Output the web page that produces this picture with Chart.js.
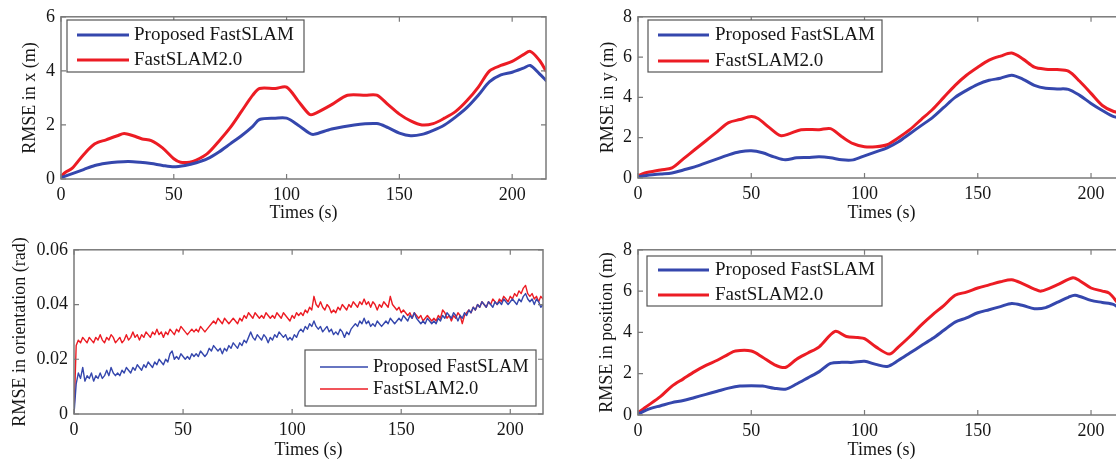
<!DOCTYPE html>
<html>
<head>
    <title>RMSE comparison</title>
    <script src="https://cdn.jsdelivr.net/npm/chart.js"></script>
    <style>
        body {
            margin: 0;
            background: #fff;
            width: 1116px;
            height: 466px;
            overflow: hidden;
            position: relative;
        }
        canvas {
            position: absolute;
        }
    </style>
</head>
<body>
    <canvas id="chartX" width="556" height="233" style="left:0;top:0"></canvas>
    <canvas id="chartY" width="580" height="233" style="left:556px;top:0"></canvas>
    <canvas id="chartO" width="556" height="233" style="left:0;top:233px"></canvas>
    <canvas id="chartP" width="580" height="233" style="left:556px;top:233px"></canvas>

    <script>
        const seriesNames = ['Proposed FastSLAM', 'FastSLAM2.0'];
        const xTicks = [0, 50, 100, 150, 200];

        // RMSE in x (m)
        const xBlueT = [0, 5, 10, 15, 20, 25, 30, 35, 40, 45, 50, 55, 60, 65, 70, 75, 80, 85, 88, 95, 100, 105, 110, 112, 120, 130, 140, 145, 150, 155, 160, 165, 170, 175, 180, 185, 190, 195, 200, 205, 208, 212, 215];
        const xBlueV = [0.05, 0.2, 0.35, 0.5, 0.58, 0.63, 0.65, 0.62, 0.57, 0.5, 0.45, 0.5, 0.6, 0.75, 1.0, 1.3, 1.6, 1.95, 2.2, 2.25, 2.25, 2.0, 1.7, 1.65, 1.85, 2.0, 2.05, 1.9, 1.7, 1.6, 1.65, 1.8, 2.0, 2.3, 2.65, 3.1, 3.6, 3.85, 3.95, 4.1, 4.2, 3.9, 3.65];
        const xRedT = [0, 2, 5, 10, 15, 20, 25, 28, 32, 36, 40, 45, 50, 53, 57, 60, 65, 70, 75, 80, 85, 88, 95, 100, 105, 110, 112, 120, 127, 135, 140, 145, 150, 155, 160, 165, 170, 175, 180, 185, 190, 195, 200, 205, 208, 212, 215];
        const xRedV = [0.1, 0.25, 0.4, 0.9, 1.3, 1.45, 1.6, 1.68, 1.6, 1.48, 1.42, 1.15, 0.75, 0.62, 0.62, 0.7, 0.95, 1.4, 1.9, 2.5, 3.1, 3.35, 3.35, 3.4, 2.9, 2.4, 2.4, 2.75, 3.1, 3.1, 3.1, 2.75, 2.4, 2.15, 2.0, 2.05, 2.25, 2.5, 2.9, 3.4, 4.0, 4.2, 4.35, 4.6, 4.72, 4.4, 4.0];

        // RMSE in y (m)
        const yBlueT = [0, 5, 10, 15, 20, 25, 30, 35, 40, 45, 50, 55, 60, 65, 70, 75, 80, 85, 90, 95, 100, 105, 110, 115, 120, 125, 130, 135, 140, 145, 150, 155, 160, 165, 170, 175, 180, 185, 190, 195, 200, 205, 210, 215];
        const yBlueV = [0.05, 0.15, 0.2, 0.25, 0.4, 0.55, 0.75, 0.95, 1.15, 1.3, 1.35, 1.25, 1.05, 0.9, 1.0, 1.02, 1.05, 1.0, 0.9, 0.9, 1.1, 1.3, 1.5, 1.8, 2.2, 2.6, 3.0, 3.5, 4.0, 4.35, 4.65, 4.85, 4.95, 5.1, 4.9, 4.6, 4.45, 4.42, 4.4, 4.1, 3.7, 3.35, 3.05, 2.95];
        const yRedT = [0, 3, 10, 15, 20, 25, 30, 35, 40, 45, 50, 53, 58, 63, 67, 72, 80, 85, 90, 95, 100, 105, 110, 115, 120, 125, 130, 135, 140, 145, 150, 155, 160, 165, 170, 175, 180, 185, 190, 195, 200, 205, 210, 215];
        const yRedV = [0.1, 0.25, 0.4, 0.5, 0.95, 1.4, 1.85, 2.3, 2.75, 2.9, 3.05, 2.95, 2.5, 2.1, 2.2, 2.4, 2.4, 2.45, 2.05, 1.7, 1.55, 1.55, 1.65, 2.0, 2.4, 2.9, 3.4, 4.0, 4.6, 5.1, 5.5, 5.85, 6.05, 6.2, 5.9, 5.5, 5.4, 5.38, 5.3, 4.8, 4.2, 3.6, 3.3, 3.2];

        // RMSE in orientation, sampled once per second, in 1e-3 rad
        const oBlueMrad = [0, 11, 15, 13, 17, 12, 14, 13, 15, 12, 14, 13, 15, 13, 14, 16, 14, 17, 15, 14,
            15, 14, 16, 15, 17, 16, 15, 17, 16, 18, 17, 16, 18, 17, 19, 18, 17, 19, 18, 20,
            19, 18, 20, 19, 22, 23, 20, 21, 20, 22, 21, 20, 21, 20, 22, 21, 22, 21, 23, 22,
            21, 22, 24, 23, 25, 24, 23, 24, 22, 24, 23, 25, 24, 26, 25, 24, 26, 25, 27, 26,
            28, 30, 28, 27, 29, 28, 27, 29, 28, 26, 28, 27, 29, 28, 30, 29, 28, 29, 27, 28,
            27, 29, 28, 30, 31, 30, 32, 31, 33, 32, 34, 32, 31, 32, 30, 31, 32, 30, 31, 29,
            30, 29, 31, 30, 28, 30, 29, 31, 32, 33, 32, 34, 33, 35, 33, 34, 32, 33, 32, 34,
            33, 32, 33, 34, 33, 35, 34, 33, 34, 35, 34, 36, 35, 34, 36, 35, 37, 35, 34, 33,
            34, 33, 35, 34, 33, 34, 33, 35, 34, 36, 35, 37, 36, 35, 37, 36, 34, 36, 35, 37,
            36, 38, 37, 39, 38, 40, 39, 41, 40, 39, 41, 40, 39, 41, 40, 41, 40, 42, 41, 40,
            41, 42, 41, 40, 42, 41, 43, 44, 42, 41, 42, 40, 42, 41, 39, 40];
        const oRedMrad = [0, 25, 27, 26, 28, 27, 26, 28, 27, 26, 28, 27, 29, 27, 26, 28, 27, 29, 28, 26,
            27, 28, 26, 27, 29, 27, 28, 30, 28, 29, 27, 29, 28, 30, 29, 28, 30, 29, 31, 29,
            30, 28, 30, 29, 31, 30, 29, 31, 30, 32, 31, 30, 29, 30, 31, 30, 31, 30, 32, 31,
            30, 31, 32, 33, 34, 33, 35, 34, 33, 35, 34, 33, 34, 35, 34, 33, 35, 34, 36, 35,
            37, 36, 35, 37, 36, 35, 36, 35, 37, 36, 35, 36, 35, 37, 36, 35, 37, 36, 35, 34,
            36, 35, 37, 36, 37, 36, 38, 37, 39, 38, 43, 40, 39, 41, 39, 38, 40, 39, 37, 38,
            37, 39, 38, 40, 39, 38, 40, 39, 41, 40, 39, 41, 40, 42, 40, 41, 39, 41, 40, 38,
            40, 39, 41, 40, 39, 43, 40, 39, 38, 39, 37, 38, 37, 36, 37, 35, 37, 36, 35, 36,
            34, 35, 36, 35, 34, 35, 34, 36, 35, 38, 37, 35, 36, 34, 36, 35, 37, 36, 33, 36,
            37, 38, 37, 39, 38, 40, 39, 41, 40, 39, 41, 40, 42, 41, 40, 42, 41, 43, 42, 41,
            43, 42, 44, 43, 45, 44, 46, 47, 44, 43, 44, 42, 43, 41, 43, 42];

        // RMSE in position (m)
        const pBlueT = [0, 5, 10, 15, 20, 25, 30, 35, 40, 45, 50, 55, 60, 65, 70, 75, 80, 85, 90, 95, 100, 105, 110, 115, 120, 125, 130, 135, 140, 145, 150, 155, 160, 165, 170, 175, 180, 185, 190, 193, 200, 205, 210, 215];
        const pBlueV = [0.05, 0.3, 0.45, 0.6, 0.7, 0.85, 1.0, 1.15, 1.3, 1.4, 1.42, 1.4, 1.3, 1.25, 1.5, 1.8, 2.1, 2.5, 2.55, 2.55, 2.6, 2.45, 2.35, 2.65, 3.0, 3.35, 3.7, 4.1, 4.5, 4.7, 4.95, 5.1, 5.25, 5.4, 5.3, 5.15, 5.2, 5.45, 5.7, 5.8, 5.55, 5.45, 5.35, 4.9];
        const pRedT = [0, 3, 10, 15, 20, 25, 30, 35, 40, 43, 50, 55, 60, 65, 70, 75, 80, 87, 92, 97, 100, 105, 111, 115, 120, 125, 130, 135, 140, 145, 150, 155, 160, 165, 170, 175, 178, 185, 192, 195, 200, 205, 208, 212, 215];
        const pRedV = [0.1, 0.35, 0.9, 1.4, 1.75, 2.1, 2.4, 2.65, 2.95, 3.1, 3.1, 2.8, 2.45, 2.3, 2.7, 3.0, 3.3, 4.05, 3.8, 3.75, 3.7, 3.3, 2.95, 3.3, 3.8, 4.35, 4.85, 5.3, 5.8, 5.95, 6.15, 6.3, 6.45, 6.55, 6.35, 6.1, 6.0, 6.3, 6.65, 6.5, 6.15, 6.0, 5.9, 5.4, 5.0];

        const blue = '#3547ad';
        const red = '#ec1c24';
        const axisGray = '#7a7a7a';
        const serif = '"Liberation Serif", "Times New Roman", serif';

        Chart.defaults.font.family = serif;
        Chart.defaults.font.size = 18;
        Chart.defaults.color = '#161616';

        function pairs(t, v) {
            return t.map((x, i) => ({ x: x, y: v[i] }));
        }

        // box round the plot and inward ticks on all four sides
        const frame = {
            id: 'frame',
            afterDatasetsDraw(chart) {
                const { ctx, chartArea: a, scales } = chart;
                ctx.save();
                ctx.strokeStyle = axisGray;
                ctx.lineWidth = 1.5;
                ctx.strokeRect(a.left, a.top, a.right - a.left, a.bottom - a.top);
                ctx.lineWidth = 1.2;
                ctx.beginPath();
                scales.x.ticks.forEach(tk => {
                    const px = scales.x.getPixelForValue(tk.value);
                    ctx.moveTo(px, a.bottom); ctx.lineTo(px, a.bottom - 5);
                    ctx.moveTo(px, a.top); ctx.lineTo(px, a.top + 5);
                });
                scales.y.ticks.forEach(tk => {
                    const py = scales.y.getPixelForValue(tk.value);
                    ctx.moveTo(a.left, py); ctx.lineTo(a.left + 5, py);
                    ctx.moveTo(a.right, py); ctx.lineTo(a.right - 5, py);
                });
                ctx.stroke();
                ctx.restore();
            }
        };

        // legend with a border, drawn inside the plot
        const boxLegend = {
            id: 'boxLegend',
            afterDraw(chart, args, opts) {
                const { ctx } = chart;
                const b = opts.box;
                ctx.save();
                ctx.fillStyle = '#fff';
                ctx.fillRect(b.x, b.y, b.w, b.h);
                ctx.strokeStyle = '#555';
                ctx.lineWidth = 1.2;
                ctx.strokeRect(b.x, b.y, b.w, b.h);
                ctx.font = opts.fontSize + 'px ' + serif;
                ctx.textBaseline = 'middle';
                chart.data.datasets.forEach((ds, i) => {
                    const y = opts.rows[i];
                    ctx.strokeStyle = ds.borderColor;
                    ctx.lineWidth = ds.borderWidth;
                    ctx.beginPath();
                    ctx.moveTo(opts.line[0], y);
                    ctx.lineTo(opts.line[1], y);
                    ctx.stroke();
                    ctx.fillStyle = '#161616';
                    ctx.fillText(ds.label, opts.textX, y);
                });
                ctx.restore();
            }
        };

        function makeChart(id, cfg) {
            new Chart(document.getElementById(id), {
                type: 'line',
                data: {
                    datasets: [
                        { label: seriesNames[0], data: cfg.blue, borderColor: blue, borderWidth: cfg.lw },
                        { label: seriesNames[1], data: cfg.red, borderColor: red, borderWidth: cfg.lw }
                    ]
                },
                options: {
                    responsive: false,
                    animation: false,
                    events: [],
                    layout: { padding: { left: 0, right: cfg.padRight, top: cfg.padTop, bottom: 0 } },
                    elements: {
                        point: { radius: 0 },
                        line: { tension: cfg.tension, borderJoinStyle: 'round', borderCapStyle: 'round' }
                    },
                    scales: {
                        x: {
                            type: 'linear',
                            min: 0,
                            max: 215,
                            afterBuildTicks: s => { s.ticks = xTicks.map(v => ({ value: v })); },
                            afterFit: s => { s.height = cfg.xHeight; },
                            grid: { display: false, drawTicks: false },
                            border: { display: false },
                            ticks: { padding: 5, maxRotation: 0 },
                            title: { display: true, text: 'Times (s)', font: { size: 18 }, padding: { top: 0, bottom: cfg.xTitlePad } }
                        },
                        y: {
                            min: 0,
                            max: cfg.yMax,
                            afterBuildTicks: s => { s.ticks = cfg.yTicks.map(v => ({ value: v })); },
                            afterFit: s => { s.width = cfg.yWidth; },
                            grid: { display: false, drawTicks: false },
                            border: { display: false },
                            ticks: { padding: 6, callback: v => cfg.yFmt ? cfg.yFmt(v) : String(v) },
                            title: { display: true, text: cfg.yTitle, font: { size: 18 }, padding: { top: cfg.yTitlePad, bottom: 0 } }
                        }
                    },
                    plugins: {
                        legend: { display: false },
                        tooltip: { enabled: false },
                        boxLegend: cfg.legend
                    }
                },
                plugins: [frame, boxLegend]
            });
        }

        const oTimes = oBlueMrad.map((_, i) => i);

        makeChart('chartX', {
            blue: pairs(xBlueT, xBlueV), red: pairs(xRedT, xRedV), lw: 3, tension: 0.3,
            yMax: 6, yTicks: [0, 2, 4, 6], yTitle: 'RMSE in x (m)',
            yWidth: 61, yTitlePad: 19, padRight: 10, padTop: 13, xHeight: 54, xTitlePad: 9,
            legend: { box: { x: 67, y: 20, w: 237, h: 52 }, rows: [35, 60], line: [77, 129], textX: 134, fontSize: 19 }
        });

        makeChart('chartY', {
            blue: pairs(yBlueT, yBlueV), red: pairs(yRedT, yRedV), lw: 3, tension: 0.3,
            yMax: 8, yTicks: [0, 2, 4, 6, 8], yTitle: 'RMSE in y (m)',
            yWidth: 82, yTitlePad: 41, padRight: 11, padTop: 13, xHeight: 55, xTitlePad: 9,
            legend: { box: { x: 92, y: 20, w: 234, h: 52 }, rows: [35, 61], line: [102, 153], textX: 159, fontSize: 19 }
        });

        makeChart('chartO', {
            blue: pairs(oTimes, oBlueMrad.map(v => v / 1000)), red: pairs(oTimes, oRedMrad.map(v => v / 1000)), lw: 1.4, tension: 0,
            yMax: 0.06, yTicks: [0, 0.02, 0.04, 0.06], yTitle: 'RMSE in orientation (rad)',
            yFmt: v => v === 0 ? '0' : v.toFixed(2),
            yWidth: 74, yTitlePad: 9, padRight: 13, padTop: 15, xHeight: 52, xTitlePad: 5,
            legend: { box: { x: 305, y: 117, w: 231, h: 56 }, rows: [134, 156], line: [320, 368], textX: 373, fontSize: 18.5 }
        });

        makeChart('chartP', {
            blue: pairs(pBlueT, pBlueV), red: pairs(pRedT, pRedV), lw: 3, tension: 0.3,
            yMax: 8, yTicks: [0, 2, 4, 6, 8], yTitle: 'RMSE in position (m)',
            yWidth: 82, yTitlePad: 40, padRight: 11, padTop: 15, xHeight: 51, xTitlePad: 5,
            legend: { box: { x: 91, y: 23, w: 235, h: 50 }, rows: [37, 62], line: [102, 153], textX: 159, fontSize: 19 }
        });
    </script>
</body>
</html>
